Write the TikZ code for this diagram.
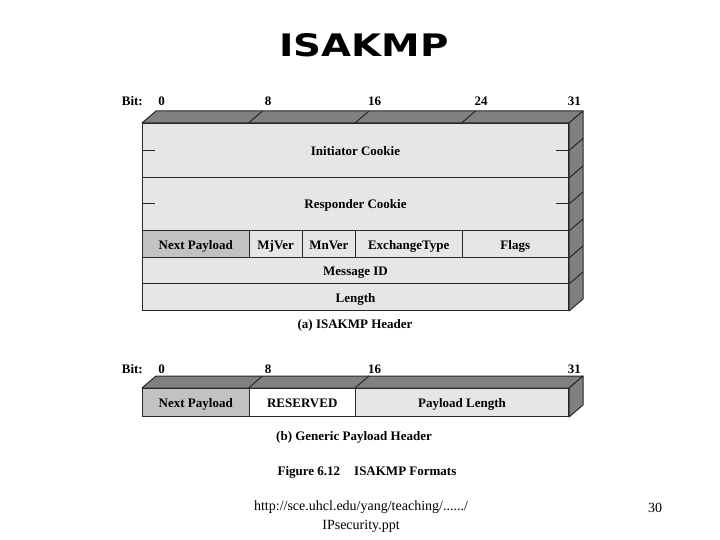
\documentclass[tikz,border=0pt]{standalone}
\usepackage{fontspec}
\setmainfont{Liberation Serif}
\newfontfamily\titlefont[FakeStretch=1.25]{DejaVu Sans}
\usepackage{tikz}
\definecolor{facegray}{RGB}{230,230,230}
\definecolor{npgray}{RGB}{194,194,194}
\definecolor{topgray}{RGB}{128,128,128}
\definecolor{edgegray}{RGB}{40,40,40}
\tikzstyle{field} = [rectangle, draw=edgegray, fill=facegray, line width=1pt,
    inner sep=0pt, anchor=north west, text height=11pt, text depth=1pt,
    font=\fontsize{13}{15}\selectfont\bfseries]
\tikzstyle{face} = [draw=edgegray, fill=topgray, line width=1pt, line join=round]
\tikzstyle{bitlabel} = [anchor=base, inner sep=0pt, font=\fontsize{13}{15}\selectfont\bfseries]
\tikzstyle{caption} = [inner sep=0pt, font=\fontsize{13}{15}\selectfont\bfseries]
\newcommand{\bitw}{13.3125}

\begin{document}
\begin{tikzpicture}[x=1pt,y=-1pt]
    \useasboundingbox[fill=white] (0,0) rectangle (720,540);

    \node (title) at (364,45) {\titlefont\bfseries\fontsize{31}{36}\selectfont ISAKMP};

    % (a) ISAKMP header
    \node[field,minimum width=426pt,minimum height=54pt] (ic) at (142,123) {Initiator Cookie};
    \node[field,minimum width=426pt,minimum height=53pt] (rc) at (142,177) {Responder Cookie};
    \node[field,fill=npgray,minimum width=106.5pt,minimum height=27pt] (np) at (142,230) {Next Payload};
    \node[field,minimum width=53.25pt,minimum height=27pt] (mj) at (248.5,230) {MjVer};
    \node[field,minimum width=53.25pt,minimum height=27pt] (mn) at (301.75,230) {MnVer};
    \node[field,minimum width=106.5pt,minimum height=27pt] (et) at (355,230) {ExchangeType};
    \node[field,minimum width=106.5pt,minimum height=27pt] (fl) at (461.5,230) {Flags};
    \node[field,minimum width=426pt,minimum height=26pt] (mid) at (142,257) {Message ID};
    \node[field,minimum width=426pt,minimum height=27pt] (len) at (142,283) {Length};

    \draw[face] (ic.north west) -- ++(14,-12) -- ([shift={(14,-12)}]ic.north east)
        -- (ic.north east) -- cycle;
    \draw[face] (ic.north east) -- ++(14,-12) -- ([shift={(14,-12)}]len.south east)
        -- (len.south east) -- cycle;
    \foreach \b in {8,16,24}
        \draw[edgegray,line width=1pt] ({142+\b*\bitw},123) -- ++(14,-12);
    \foreach \a in {ic.east,ic.south east,rc.east,rc.south east,fl.south east,mid.south east}
        \draw[edgegray,line width=1pt] (\a) -- ++(14,-12);
    \foreach \a in {ic,rc} {
        \draw[edgegray,line width=1pt] (\a.west) -- ++(13,0);
        \draw[edgegray,line width=1pt] (\a.east) -- ++(-13,0);
    }

    \node[bitlabel,anchor=base east] (bitA) at (143,106) {Bit:};
    \foreach \b in {0,8,16,24,31}
        \node[bitlabel] (bitA\b) at ({155+(\b+0.5)*\bitw},106) {\b};

    \node[caption] (capA) at (355,325) {(a) ISAKMP Header};

    % (b) generic payload header
    \node[field,fill=npgray,minimum width=106.5pt,minimum height=28pt] (npb) at (142,388) {Next Payload};
    \node[field,fill=white,minimum width=106.5pt,minimum height=28pt] (rs) at (248.5,388) {RESERVED};
    \node[field,minimum width=213pt,minimum height=28pt] (pl) at (355,388) {Payload Length};

    \draw[face] (npb.north west) -- ++(14,-12) -- ([shift={(14,-12)}]pl.north east)
        -- (pl.north east) -- cycle;
    \draw[face] (pl.north east) -- ++(14,-12) -- ([shift={(14,-12)}]pl.south east)
        -- (pl.south east) -- cycle;
    \foreach \a in {rs,pl}
        \draw[edgegray,line width=1pt] (\a.north west) -- ++(14,-12);

    \node[bitlabel,anchor=base east] (bitB) at (143,373) {Bit:};
    \foreach \b in {0,8,16,31}
        \node[bitlabel] (bitB\b) at ({155+(\b+0.5)*\bitw},373) {\b};

    \node[caption] (capB) at (354,437) {(b) Generic Payload Header};
    \node[caption] (fig) at (367,472) {Figure 6.12\hspace{14pt}ISAKMP Formats};

    % footer
    \node[align=center,font=\fontsize{14}{19}\selectfont] (src) at (361,517)
        {http://sce.uhcl.edu/yang/teaching/....../\\IPsecurity.ppt};
    \node[font=\fontsize{14}{19}\selectfont] (pg) at (655,508) {30};
\end{tikzpicture}
\end{document}
